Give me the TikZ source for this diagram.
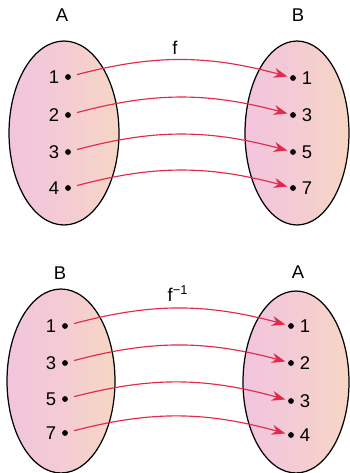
\documentclass[tikz,border=0pt]{standalone}
\usepackage{fontspec}
\setmainfont{Liberation Sans}
\usepackage{tikz}
\usetikzlibrary{arrows.meta,shapes.geometric}
\definecolor{setpink}{HTML}{F2C4DE}
\definecolor{setpeach}{HTML}{F6D6C4}
\definecolor{mapred}{HTML}{E2284C}
\tikzset{
  mapset/.style={ellipse,draw=black,line width=0.7pt,left color=setpink,right color=setpeach,middle color=setpink!60!setpeach,minimum height=3.68cm,inner sep=0pt},
  mapdot/.style={circle,fill=black,inner sep=0pt,minimum size=3.3pt},
  maplabel/.style={font=\fontsize{10.5}{12}\selectfont,inner sep=1pt},
  maparrow/.style={-{Stealth[length=2.7mm,width=2mm]},draw=mapred,line width=0.65pt,shorten <=3.5pt,shorten >=1.5pt}
}

\begin{document}
\begin{tikzpicture}[x=0.02cm,y=-0.02cm]
\useasboundingbox (0,0) rectangle (350,473);
% f : A -> B
\node[mapset,minimum width=2.2cm] (setA) at (64,133) {};
\node[mapset,minimum width=2.08cm] (setB) at (297,133) {};
\node[maplabel] (nameA) at (62,15) {A};
\node[maplabel] (nameB) at (298,15) {B};
\node[maplabel] (f) at (175,48) {f};
\foreach \v/\y in {1/77,2/115,3/152,4/188}
  \node[mapdot,label={[maplabel,label distance=2pt]left:\v}] (a\v) at (68,\y) {};
\foreach \w/\y in {1/78,3/115,5/152,7/188}
  \node[mapdot,label={[maplabel,label distance=2pt]right:\w}] (b\w) at (293,\y) {};
\draw[maparrow] (a1) to[bend left=15] (b1);
\draw[maparrow] (a2) to[bend left=15] (b3);
\draw[maparrow] (a3) to[bend left=15] (b5);
\draw[maparrow] (a4) to[bend left=15] (b7);
% inverse f^{-1} : B -> A
\node[mapset,minimum width=2.16cm] (invB) at (61,381) {};
\node[mapset,minimum width=2.12cm,minimum height=3.64cm] (invA) at (296,382) {};
\node[maplabel] (nameinvB) at (60,273) {B};
\node[maplabel] (nameinvA) at (298,272) {A};
\node[maplabel] (finv) at (178,294) {f\textsuperscript{−1}};
\foreach \w/\y in {1/326,3/363,5/399,7/433}
  \node[mapdot,label={[maplabel,label distance=2pt]left:\w}] (c\w) at (65,\y) {};
\foreach \v/\y in {1/326,2/363,3/401,4/435}
  \node[mapdot,label={[maplabel,label distance=2pt]right:\v}] (d\v) at (291,\y) {};
\draw[maparrow] (c1) to[bend left=15] (d1);
\draw[maparrow] (c3) to[bend left=15] (d2);
\draw[maparrow] (c5) to[bend left=15] (d3);
\draw[maparrow] (c7) to[bend left=15] (d4);
\end{tikzpicture}
\end{document}
